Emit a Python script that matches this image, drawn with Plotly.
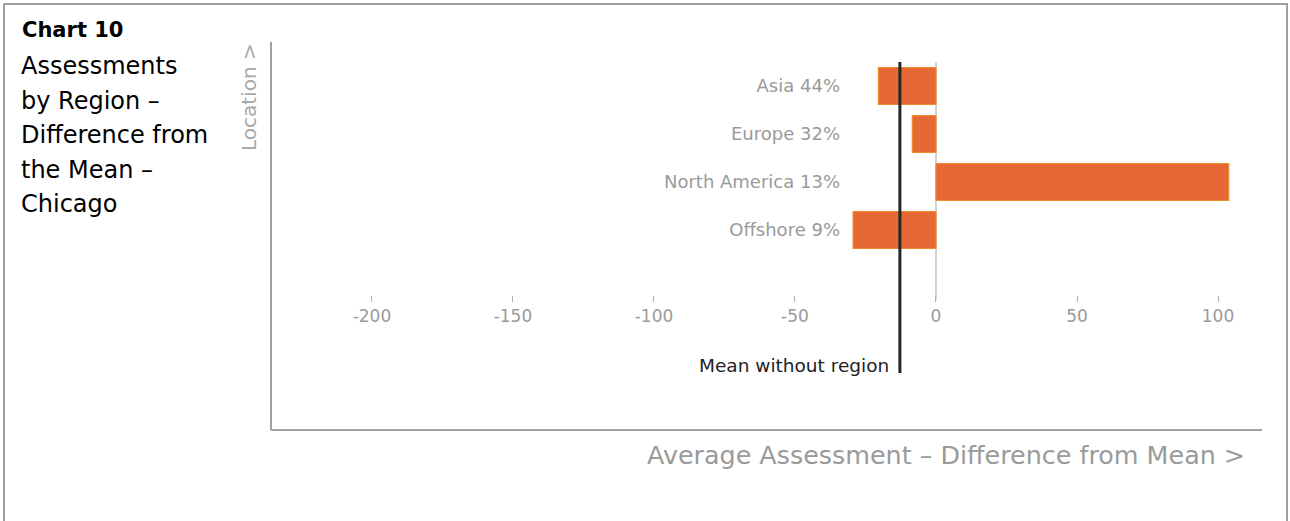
import plotly.graph_objects as go

# ---- data ----
regions = ["Asia 44%", "Europe 32%", "North America 13%", "Offshore 9%"]
diff_from_mean = [-20.4, -8.4, 103.8, -29.4]
mean_without_region = -12.8
x_ticks = [-200, -150, -100, -50, 0, 50, 100]

title_bold = "Chart 10"
subtitle_lines = ["Assessments", "by Region –", "Difference from", "the Mean –", "Chicago"]
x_title = "Average Assessment – Difference from Mean >"
y_title = "Location >"
mean_label = "Mean without region"

FONT = "DejaVu Sans"
BAR_FILL = "#E66835"
BAR_EDGE = "#F08A2A"
GRAY_TXT = "#9A9A9A"
FRAME = "#A0A0A0"

W, H = 1290, 521
L, R, T, B = 271, 28, 42, 91
pw, ph = W - L - R, H - T - B

def px_x(px):
    return (px - L) / pw

def px_y(py):
    return (H - B - py) / ph

ypos = list(range(len(regions)))

fig = go.Figure()
fig.add_trace(go.Bar(
    x=diff_from_mean, y=ypos, orientation="h",
    marker=dict(color=BAR_FILL, line=dict(color=BAR_EDGE, width=1.2)),
    width=0.77, showlegend=False, hoverinfo="x+y",
))

fig.update_layout(
    width=W, height=H,
    margin=dict(l=L, r=R, t=T, b=B, pad=0),
    paper_bgcolor="white", plot_bgcolor="white",
    font=dict(family=FONT, color=GRAY_TXT),
    xaxis=dict(
        range=[-235.8, 115.6], tickvals=x_ticks,
        ticktext=[str(v) for v in x_ticks],
        showgrid=False, zeroline=False, showline=False,
        anchor="free", position=px_y(295),
        ticks="outside", ticklen=6, tickcolor="#B0B0B0", tickwidth=1,
        tickfont=dict(size=17, color=GRAY_TXT, family=FONT),
    ),
    yaxis=dict(
        range=[7.1667, -0.9167], tickvals=ypos, ticktext=regions,
        showgrid=False, zeroline=False, showline=False,
        anchor="free", position=px_x(840), ticks="",
        tickfont=dict(size=18, color=GRAY_TXT, family=FONT),
    ),
    bargap=0.2,
)

shapes = []
# outer border
shapes.append(dict(type="rect", xref="paper", yref="paper",
                   x0=px_x(4), x1=px_x(1287), y0=px_y(540), y1=px_y(4),
                   line=dict(color=FRAME, width=2), layer="below"))
# chart frame (left and bottom)
shapes.append(dict(type="line", xref="paper", yref="paper",
                   x0=0, x1=0, y0=0, y1=1, line=dict(color=FRAME, width=2)))
shapes.append(dict(type="line", xref="paper", yref="paper",
                   x0=0, x1=1, y0=0, y1=0, line=dict(color=FRAME, width=2)))
# zero line
shapes.append(dict(type="line", xref="x", yref="y",
                   x0=0, x1=0, y0=-0.5, y1=4.46,
                   line=dict(color="#A8A8A8", width=1), layer="below"))
# mean line
shapes.append(dict(type="line", xref="x", yref="y",
                   x0=mean_without_region, x1=mean_without_region, y0=-0.5, y1=5.98,
                   line=dict(color="#262626", width=3)))
fig.update_layout(shapes=shapes)

ann = []
ann.append(dict(text="<b>" + title_bold + "</b>", xref="paper", yref="paper",
                x=px_x(20), y=px_y(30), xanchor="left", yanchor="middle",
                showarrow=False, font=dict(size=21, color="#000000", family=FONT)))
for i, line in enumerate(subtitle_lines):
    ann.append(dict(text=line, xref="paper", yref="paper",
                    x=px_x(19), y=px_y(66 + 34.5 * i), xanchor="left", yanchor="middle",
                    showarrow=False, font=dict(size=24, color="#000000", family=FONT)))
ann.append(dict(text=y_title, xref="paper", yref="paper",
                x=px_x(249), y=px_y(97), xanchor="center", yanchor="middle",
                textangle=-90, showarrow=False,
                font=dict(size=20, color="#A8A8A8", family=FONT)))
ann.append(dict(text=x_title, xref="paper", yref="paper",
                x=px_x(1247), y=px_y(455), xanchor="right", yanchor="middle",
                showarrow=False, font=dict(size=25.4, color="#9A9A9A", family=FONT)))
ann.append(dict(text=mean_label, xref="x", yref="paper",
                x=mean_without_region, xshift=-9, y=px_y(365),
                xanchor="right", yanchor="middle",
                showarrow=False, font=dict(size=18.5, color="#222222", family=FONT)))
fig.update_layout(annotations=ann)

fig.write_html("out.html", config={"displayModeBar": False},
               post_script="document.body.style.margin='0';")
